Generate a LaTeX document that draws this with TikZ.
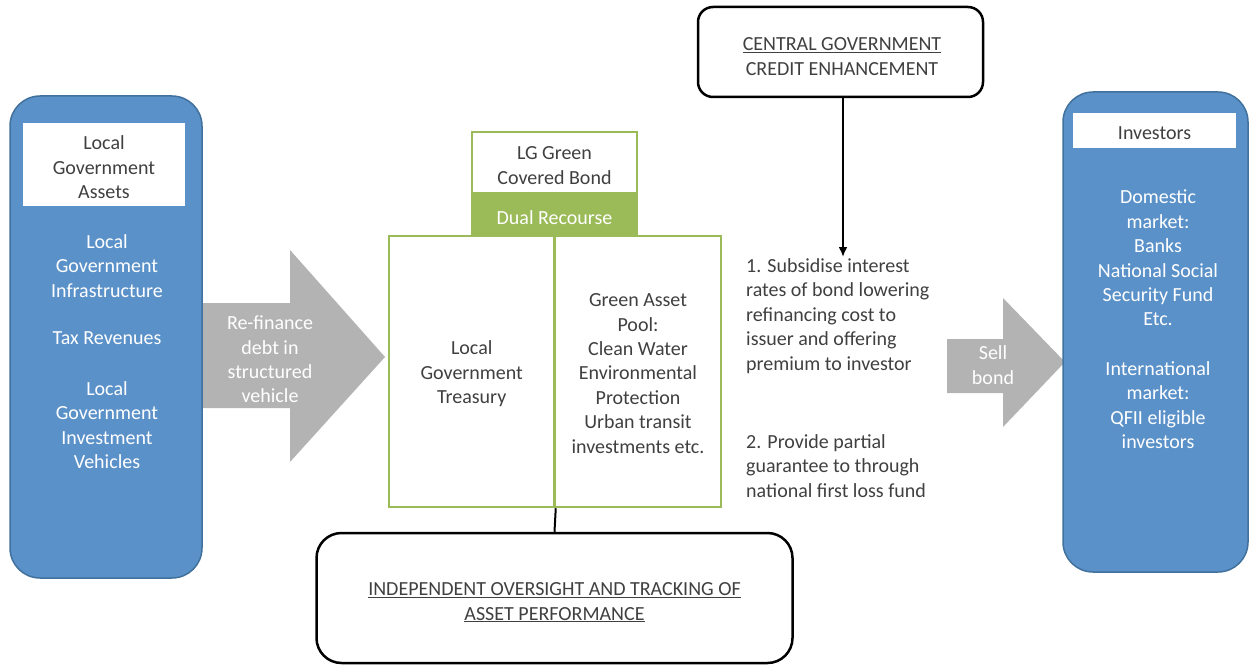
\documentclass[tikz,border=0pt]{standalone}
\usepackage{fontspec}
\setmainfont{Carlito}
\usetikzlibrary{arrows.meta}
\definecolor{lgblue}{RGB}{91,145,201}
\definecolor{lgblueedge}{RGB}{65,113,156}
\definecolor{lggreen}{RGB}{155,187,89}
\definecolor{lggray}{RGB}{179,179,179}
\definecolor{txt}{RGB}{64,64,64}
\begin{document}
\begin{tikzpicture}[x=1pt,y=-1pt,
  every node/.style={font=\fontsize{20}{24.4}\selectfont, text=txt, align=center, inner sep=0pt},
  bluebox/.style={draw=lgblueedge, line width=1.5pt, fill=lgblue, rounded corners=30pt},
  whitehead/.style={fill=white},
  wtext/.style={text=white},
  greenbox/.style={draw=lggreen, line width=2.5pt, fill=white},
  blackbox/.style={draw=black, line width=2.5pt, fill=white},
  blockarrow/.style={fill=lggray},
  link/.style={draw=black, line width=2pt}]
% canvas
\fill[white] (0,0) rectangle (1252,666);
\useasboundingbox (0,0) rectangle (1252,666);

% block arrows (drawn first)
\fill[blockarrow] (201,303) -- (290,303) -- (290,250) -- (385,357) -- (290,462) -- (290,408) -- (201,408) -- cycle;
\fill[blockarrow] (947,339) -- (1003,339) -- (1003,298) -- (1065,362) -- (1003,427) -- (1003,393) -- (947,393) -- cycle;

% left column
\node[bluebox, minimum width=192pt, minimum height=482pt] (lgbox) at (106,337) {};
\node[whitehead, minimum width=162pt, minimum height=83pt] (lghead) at (104,164.5) {};
\node (lghtext) at (104,167.5) {Local\\Government\\Assets};
\node[wtext] (lgt1) at (107,266) {Local\\Government\\Infrastructure};
\node[wtext] (lgt2) at (107,338) {Tax Revenues};
\node[wtext] (lgt3) at (107,425) {Local\\Government\\Investment\\Vehicles};
\node[wtext] (refin) at (270,359.5) {Re-finance\\debt in\\structured\\vehicle};

% green structure
\node[greenbox, minimum width=165pt, minimum height=61pt] (bond) at (554.5,162.5) {};
\node (bondtext) at (554.5,165.5) {LG Green\\Covered Bond};
\node[draw=lggreen, line width=2.5pt, fill=lggreen, minimum width=165pt, minimum height=43pt] (dual) at (554.5,214.5) {};
\node[wtext] (dualtext) at (554.5,218) {Dual Recourse};
\node[greenbox, minimum width=165.5pt, minimum height=271pt] (treasury) at (471.75,371.5) {};
\node[greenbox, minimum width=166.5pt, minimum height=271pt] (pool) at (637.75,371.5) {};
\node (treastext) at (471.75,374) {Local\\Government\\Treasury};
\node (pooltext) at (638,373.5) {Green Asset\\Pool:\\Clean Water\\Environmental\\Protection\\Urban transit\\investments etc.};

% central government
\node[blackbox, rounded corners=15pt, minimum width=285pt, minimum height=90pt] (cg) at (840.5,52) {};
\node (cgtext) at (842,56.5) {\underline{CENTRAL GOVERNMENT}\\CREDIT ENHANCEMENT};
\coordinate (cgtip) at (843,257);
\draw[link, -{Latex[length=10pt,width=9pt]}] (cg.south -| cgtip) -- (cgtip);
\node[anchor=west, align=left] (sub1) at (746,316) {1. Subsidise interest\\rates of bond lowering\\refinancing cost to\\issuer and offering\\premium to investor};
\node[anchor=west, align=left] (sub2) at (746,466) {2. Provide partial\\guarantee to through\\national first loss fund};

% investors
\node[wtext] (sell) at (993,365) {Sell\\bond};
\node[bluebox, minimum width=185pt, minimum height=480pt] (inv) at (1155.5,332) {};
\node[whitehead, minimum width=163pt, minimum height=35pt] (invhead) at (1154.5,130.5) {};
\node (invtext) at (1154.5,133) {Investors};
\node[wtext] (dom) at (1158,258) {Domestic\\market:\\Banks\\National Social\\Security Fund\\Etc.};
\node[wtext] (intl) at (1158,405) {International\\market:\\QFII eligible\\investors};

% oversight
\node[blackbox, rounded corners=25pt, minimum width=476pt, minimum height=130pt] (over) at (554.5,598) {};
\node (overtext) at (554.5,602.5) {\underline{INDEPENDENT OVERSIGHT AND TRACKING OF}\\\underline{ASSET PERFORMANCE}};
\draw[link] (treasury.south east) -- (over.north);
\end{tikzpicture}
\end{document}
